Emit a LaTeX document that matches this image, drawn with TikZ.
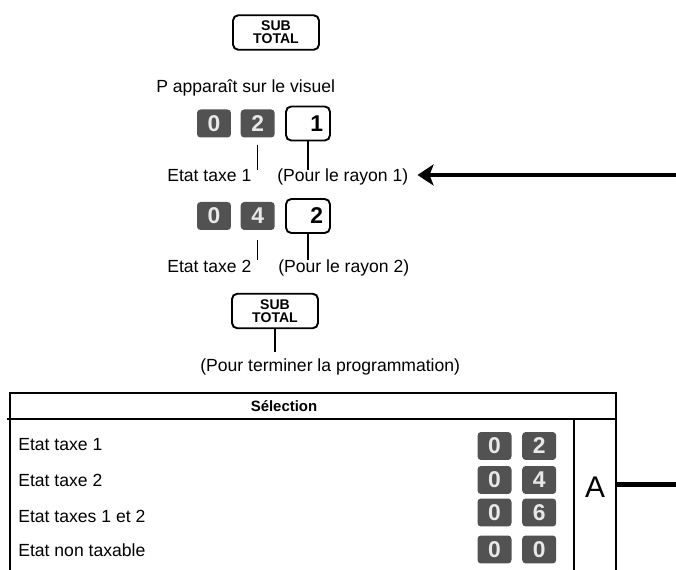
\documentclass[tikz,border=0pt]{standalone}
\usepackage{fontspec}
\setmainfont{Liberation Sans}
\usetikzlibrary{arrows.meta,positioning}
\definecolor{keygrey}{RGB}{82,82,82}
\definecolor{keyface}{RGB}{232,232,232}

\begin{document}
\begin{tikzpicture}[x=0.02cm, y=-0.02cm, font=\fontsize{10}{12}\selectfont,
    dk/.style={fill=keygrey, rounded corners=2pt, minimum width=0.68cm, minimum height=0.56cm,
               inner sep=0pt, text=keyface, font=\fontsize{13}{13}\selectfont\bfseries},
    wk/.style={draw, line width=1.1pt, rounded corners=3pt, minimum height=0.68cm, text width=0.6cm,
               inner xsep=0.14cm, inner ysep=0pt, align=right, font=\fontsize{13}{13}\selectfont\bfseries},
    sub/.style={draw, line width=1.1pt, rounded corners=3pt, minimum width=1.72cm, minimum height=0.69cm,
                inner sep=0pt, align=center, font=\fontsize{8}{7.4}\selectfont\bfseries},
    txt/.style={anchor=base west, inner sep=0pt},
    tick/.style={line width=0.8pt},
    tbl/.style={line width=0.8pt},
    thk/.style={line width=2.5pt}]
\useasboundingbox (0,0) rectangle (676,570);
% key sequence
\node[sub] (st1) at (276,32.5) {SUB\\TOTAL};
\node[txt] (vis) at (156,92.5) {P apparaît sur le visuel};
\node[dk] (k0a) at (214,123.5) {0};
\node[dk, right=0.18cm of k0a] (k2a) {2};
\node[wk, right=0.2cm of k2a] (w1) {1};
\node[txt] (et1) at (167,182) {Etat taxe 1};
\node[txt] (ray1) at (277,182) {(Pour le rayon 1)};
\draw[tick] ([yshift=-0.14cm]k2a.south) -- (k2a.south |- et1.north);
\draw[tick] (w1.south) -- (w1.south |- et1.north);
\node[dk] (k0b) at (214,216) {0};
\node[dk, right=0.18cm of k0b] (k4b) {4};
\node[wk, right=0.2cm of k4b] (w2) {2};
\node[txt] (et2) at (167,273) {Etat taxe 2};
\node[txt] (ray2) at (278,273) {(Pour le rayon 2)};
\draw[tick] ([yshift=-0.2cm]k4b.south) -- (k4b.south |- et2.north);
\draw[tick] (w2.south) -- (w2.south |- et2.north);
\node[sub] (st2) at (275,311) {SUB\\TOTAL};
\node[txt] (prog) at (200,372) {(Pour terminer la programmation)};
\draw[tick] (st2.south) -- ([yshift=0.14cm]st2.south |- prog.north);
% pointer
\coordinate (ar1) at (676,175);
\draw[thk, -{Stealth[length=0.32cm, width=0.42cm, inset=0.08cm]}] (ar1) -- ([xshift=0.18cm]ray1.east |- ar1);
% table
\draw[tbl] (10,570) -- (10,393) -- (616,393) -- (616,570);
\draw[tbl] (7,419) -- (616,419);
\draw[tbl] (574,419) -- (574,570);
\node[font=\fontsize{8.5}{10}\selectfont\bfseries] (sel) at (284,406) {Sélection};
\node[txt] (r1) at (18,451) {Etat taxe 1};
\node[txt] (r2) at (18,487) {Etat taxe 2};
\node[txt] (r3) at (18,522) {Etat taxes 1 et 2};
\node[txt] (r4) at (18,557) {Etat non taxable};
\node[dk] (t1a) at (494.5,446) {0};
\node[dk, right=0.2cm of t1a] (t1b) {2};
\node[dk] (t2a) at (494.5,480) {0};
\node[dk, right=0.2cm of t2a] (t2b) {4};
\node[dk] (t3a) at (494.5,512.5) {0};
\node[dk, right=0.2cm of t3a] (t3b) {6};
\node[dk] (t4a) at (494.5,549.5) {0};
\node[dk, right=0.2cm of t4a] (t4b) {0};
\node[font=\fontsize{17}{17}\selectfont] (selA) at (595,487) {A};
\coordinate (ar2) at (676,484.5);
\draw[thk] (ar2) -- ++(-60,0);
\end{tikzpicture}
\end{document}
